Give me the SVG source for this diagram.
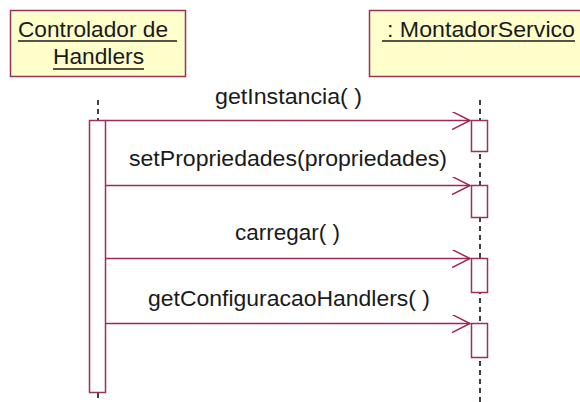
<svg xmlns="http://www.w3.org/2000/svg" width="580" height="402" viewBox="0 0 580 402">
<style>
.obj{fill:#FFFFCC;stroke:#993355;stroke-width:1.5}
.act{fill:#FFFFFF;stroke:#993355;stroke-width:1.5}
.life{stroke:#000;stroke-width:1.5;stroke-dasharray:5 4;fill:none}
.msg{stroke:#A02858;stroke-width:1.5;fill:none}
.lbl{font-family:"Liberation Sans",Arial,sans-serif;font-size:22px;fill:#1a1a1a}
.ul{stroke:#1a1a1a;stroke-width:1.3}
</style>
<defs>
<marker id="open" markerWidth="20" markerHeight="20" refX="18" refY="9" orient="auto" markerUnits="userSpaceOnUse">
<path d="M0,0 L18,9 L0,18" fill="none" stroke="#A02858" stroke-width="1.5"/>
</marker>
</defs>
<rect width="580" height="402" fill="#FFFFFF"/>
<g id="controlador">
<rect class="obj" x="10.5" y="10.5" width="175" height="66"/>
<text class="lbl" x="18" y="37" textLength="150" lengthAdjust="spacingAndGlyphs">Controlador de</text>
<line class="ul" x1="18" y1="41" x2="177" y2="41"/>
<text class="lbl" x="53" y="64" textLength="91" lengthAdjust="spacingAndGlyphs">Handlers</text>
<line class="ul" x1="53" y1="69" x2="144" y2="69"/>
<line class="life" x1="98" y1="100" x2="98" y2="120"/>
<line class="life" x1="98" y1="393" x2="98" y2="402"/>
<rect class="act" x="89.5" y="120.5" width="16" height="272"/>
</g>
<g id="montador">
<rect class="obj" x="369.5" y="10.5" width="230" height="66"/>
<text class="lbl" x="387" y="37" textLength="188" lengthAdjust="spacingAndGlyphs">: MontadorServico</text>
<line class="ul" x1="382" y1="41" x2="575" y2="41"/>
<line class="life" x1="480" y1="100" x2="480" y2="402"/>
<rect class="act" x="471.5" y="120.5" width="16" height="31"/>
<rect class="act" x="471.5" y="185.5" width="16" height="32"/>
<rect class="act" x="471.5" y="258.5" width="16" height="34"/>
<rect class="act" x="471.5" y="323.5" width="16" height="34"/>
</g>
<g id="connectors">
<line class="msg" x1="105.5" y1="120.5" x2="470" y2="120.5" marker-end="url(#open)"/>
<line class="msg" x1="105.5" y1="185.5" x2="470" y2="185.5" marker-end="url(#open)"/>
<line class="msg" x1="105.5" y1="258.5" x2="470" y2="258.5" marker-end="url(#open)"/>
<line class="msg" x1="105.5" y1="323.5" x2="470" y2="323.5" marker-end="url(#open)"/>
<text class="lbl" x="215" y="104" textLength="147" lengthAdjust="spacingAndGlyphs">getInstancia( )</text>
<text class="lbl" x="129" y="166" textLength="318" lengthAdjust="spacingAndGlyphs">setPropriedades(propriedades)</text>
<text class="lbl" x="235" y="240" textLength="105" lengthAdjust="spacingAndGlyphs">carregar( )</text>
<text class="lbl" x="148" y="306" textLength="282" lengthAdjust="spacingAndGlyphs">getConfiguracaoHandlers( )</text>
</g>
</svg>
